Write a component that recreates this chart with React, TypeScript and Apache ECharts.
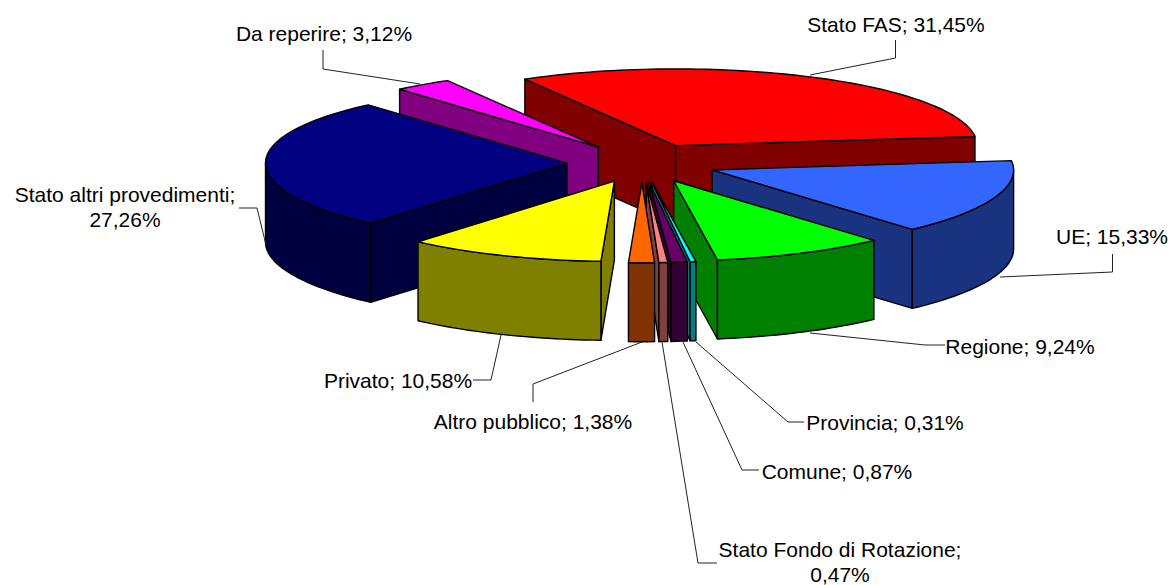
import React, { useEffect, useRef } from "react";
import * as echarts from "echarts";

const categories = ["Stato FAS", "UE", "Regione", "Provincia", "Comune", "Stato Fondo di Rotazione", "Altro pubblico", "Privato", "Stato altri provedimenti", "Da reperire"];
const shares = [31.45, 15.33, 9.24, 0.31, 0.87, 0.47, 1.38, 10.58, 27.26, 3.12];
const topColors = ["#FF0000", "#3366FF", "#00FF00", "#00FFFF", "#660066", "#FF8080", "#FF6600", "#FFFF00", "#000080", "#FF00FF"];
const sideColors = ["#800000", "#1A3380", "#008000", "#008080", "#330033", "#804040", "#803300", "#808000", "#000040", "#800080"];

// projection of the pie
const CX = 642, CY = 163, R = 301.5, TILT = 0.26, DEPTH = 79, EXPLODE = 75, START = -120;
const PERSP_Y = 0.00005;
const rad = (d: number) => (d * Math.PI) / 180;
const total = shares.reduce((a, b) => a + b, 0);
const bounds: number[] = [START];
shares.forEach((v, i) => bounds.push(bounds[i] + (v / total) * 360));

// label layout: text anchor centre and leader polyline
const labelPos: [number, number][] = [[896, 24], [1112, 236], [1020, 346], [885, 422], [837, 471], [840, 537], [533, 421], [398, 380], [125, 182], [324, 33]];
const leaders: number[][][] = [
  [[810, 75], [895.5, 58], [895.5, 40]],
  [[1000, 277], [1112.5, 272], [1112.5, 254]],
  [[810, 333], [925, 345], [945, 345]],
  [[696, 342], [788, 422], [804, 422]],
  [[683, 342], [742, 470], [759, 470]],
  [[662, 342], [698, 563], [717, 563]],
  [[642, 342], [533, 384], [533, 402]],
  [[501, 335], [491, 380], [473, 380]],
  [[266, 245], [257, 208], [239, 208]],
  [[420, 84], [323, 69], [323, 50]],
];
const labelBreak: Record<number, boolean> = { 5: true, 8: true };
const fmt = (v: number) => v.toFixed(2).replace(".", ",") + "%";

const drawOrder = shares.map((_, i) => i).sort((a, b) => {
  const s = (i: number) => Math.sin(rad((bounds[i] + bounds[i + 1]) / 2));
  return s(a) - s(b);
});

function project(gx: number, gy: number, dz: number) {
  const fy = 1 + PERSP_Y * gy;
  return [CX + gx, CY + gy * TILT * fy + dz];
}

function renderSlice(_: any, api: any) {
  const i = api.value(0) as number;
  const a1 = bounds[i], a2 = bounds[i + 1], mid = (a1 + a2) / 2;
  const ox = EXPLODE * Math.cos(rad(mid));
  const oy = EXPLODE * Math.sin(rad(mid));
  const rim = (a: number, dz = 0) => project(ox + R * Math.cos(rad(a)), oy + R * Math.sin(rad(a)), dz);
  const apex = (dz = 0) => project(ox, oy, dz);
  const arc = (from: number, to: number, dz = 0) => {
    const n = Math.max(2, Math.ceil(Math.abs(to - from) / 1.5));
    const pts: number[][] = [];
    for (let k = 0; k <= n; k++) pts.push(rim(from + ((to - from) * k) / n, dz));
    return pts;
  };
  const children: any[] = [];
  const face = (points: number[][], fill: string) =>
    children.push({ type: "polygon", shape: { points }, style: { fill, stroke: "#000", lineWidth: 1.4, lineJoin: "round" } });
  const radial = (a: number) => [apex(), rim(a), rim(a, DEPTH), apex(DEPTH)];
  if (Math.cos(rad(a1)) < 0) face(radial(a1), sideColors[i]);
  if (Math.cos(rad(a2)) > 0) face(radial(a2), sideColors[i]);
  const n1 = Math.max(a1, 0), n2 = Math.min(a2, 180);
  if (n2 > n1) face([...arc(n1, n2), ...arc(n2, n1, DEPTH)], sideColors[i]);
  face([apex(), ...arc(a1, a2)], topColors[i]);
  return { type: "group", children };
}

export default function App() {
  const ref = useRef<HTMLDivElement>(null);
  useEffect(() => {
    const chart = echarts.init(ref.current!, null, { renderer: "svg" });
    const graphics: any[] = [];
    categories.forEach((name, i) => {
      graphics.push({
        type: "polyline",
        silent: true,
        z: 10,
        shape: { points: leaders[i] },
        style: { fill: "none", stroke: "#222", lineWidth: 1 },
      });
      graphics.push({
        type: "text",
        silent: true,
        z: 11,
        x: labelPos[i][0],
        y: labelPos[i][1],
        style: {
          text: `${name};${labelBreak[i] ? "\n" : " "}${fmt(shares[i])}`,
          font: '21px "Liberation Sans", Arial, sans-serif',
          fill: "#000",
          align: "center",
          verticalAlign: labelBreak[i] ? "top" : "middle",
          lineHeight: 25,
        },
      });
    });
    chart.setOption({
      animation: false,
      backgroundColor: "#fff",
      graphic: graphics,
      series: [
        {
          type: "custom",
          coordinateSystem: "none",
          silent: true,
          renderItem: renderSlice,
          data: drawOrder.map((i) => [i, shares[i]]),
          encode: { value: [1] },
        },
      ],
    });
    return () => chart.dispose();
  }, []);
  return <div ref={ref} style={{ position: "fixed", left: 0, top: 0, width: 1170, height: 585 }} />;
}
